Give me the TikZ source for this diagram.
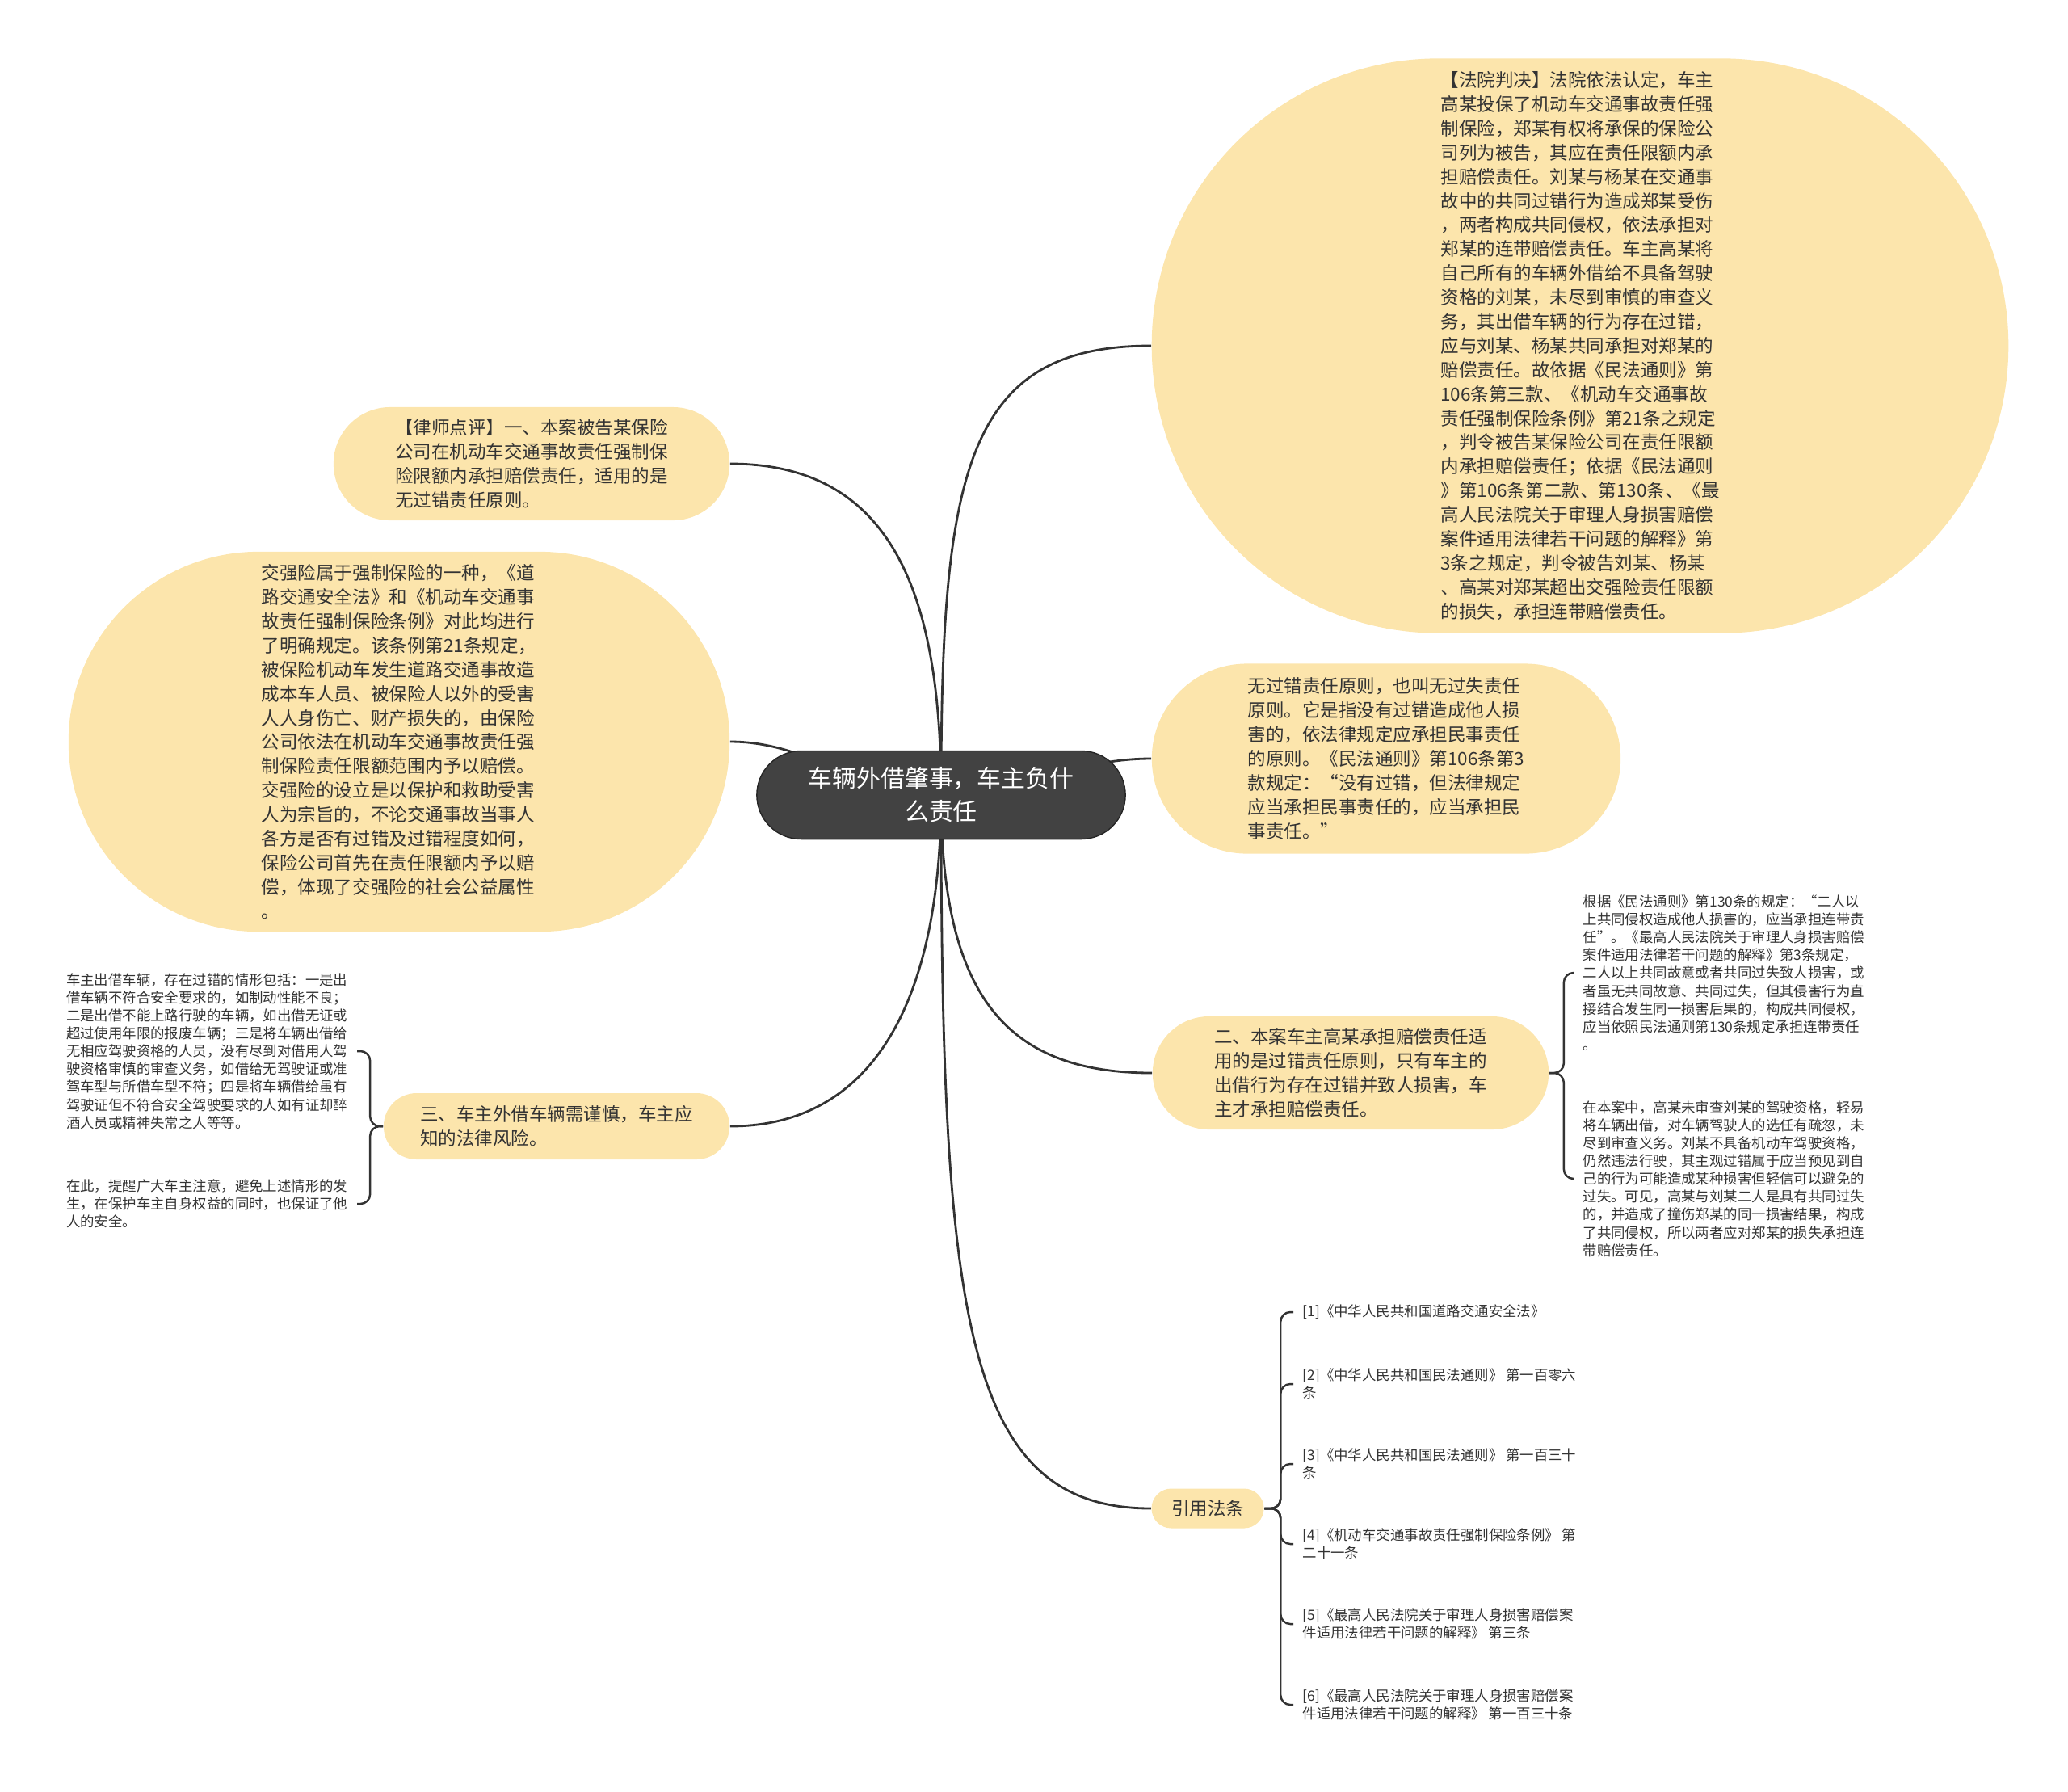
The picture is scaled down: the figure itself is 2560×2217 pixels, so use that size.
\documentclass[tikz,border=0pt]{standalone}
\usepackage{fontspec}
\setmainfont{Noto Sans CJK SC}
\usetikzlibrary{shapes.misc,backgrounds}
\definecolor{bubblefill}{RGB}{252,229,172}
\definecolor{rootfill}{RGB}{66,66,66}
\definecolor{inkgray}{RGB}{51,51,51}

\begin{document}
\begin{tikzpicture}[x=0.01cm,y=-0.01cm,
  bubble/.style={rounded rectangle, fill=bubblefill, inner sep=0pt, align=left, text=inkgray, font=\fontsize{6.4}{8.5}\selectfont},
  note/.style={inner xsep=0.11cm, inner ysep=0pt, align=left, text=inkgray, font=\fontsize{4.95}{6.3}\selectfont},
  link/.style={draw=inkgray, line width=0.8pt},
  brace/.style={draw=inkgray, line width=0.7pt, rounded corners=0.12cm}]
\useasboundingbox (0,0) rectangle (2560,2217);

% centre topic
\node[rounded rectangle, fill=rootfill, draw=black!85, minimum width=4.56cm, minimum height=1.09cm, inner sep=0pt, align=center, text=white, font=\fontsize{8.5}{11.7}\selectfont] (root) at (1165,984) {车辆外借肇事，车主负什\\么责任};

% main branches
\node[bubble, minimum width=10.6cm, minimum height=7.11cm] (judge) at (1956,428) {【法院判决】法院依法认定，车主\\高某投保了机动车交通事故责任强\\制保险，郑某有权将承保的保险公\\司列为被告，其应在责任限额内承\\担赔偿责任。刘某与杨某在交通事\\故中的共同过错行为造成郑某受伤\\，两者构成共同侵权，依法承担对\\郑某的连带赔偿责任。车主高某将\\自己所有的车辆外借给不具备驾驶\\资格的刘某，未尽到审慎的审查义\\务，其出借车辆的行为存在过错，\\应与刘某、杨某共同承担对郑某的\\赔偿责任。故依据《民法通则》第\\106条第三款、《机动车交通事故\\责任强制保险条例》第21条之规定\\，判令被告某保险公司在责任限额\\内承担赔偿责任；依据《民法通则\\》第106条第二款、第130条、《最\\高人民法院关于审理人身损害赔偿\\案件适用法律若干问题的解释》第\\3条之规定，判令被告刘某、杨某\\、高某对郑某超出交强险责任限额\\的损失，承担连带赔偿责任。};
\node[bubble, minimum width=4.9cm, minimum height=1.4cm] (lawyer) at (658,574) {【律师点评】一、本案被告某保险\\公司在机动车交通事故责任强制保\\险限额内承担赔偿责任，适用的是\\无过错责任原则。};
\node[bubble, minimum width=8.18cm, minimum height=4.7cm] (insure) at (494,918) {交强险属于强制保险的一种，《道\\路交通安全法》和《机动车交通事\\故责任强制保险条例》对此均进行\\了明确规定。该条例第21条规定，\\被保险机动车发生道路交通事故造\\成本车人员、被保险人以外的受害\\人人身伤亡、财产损失的，由保险\\公司依法在机动车交通事故责任强\\制保险责任限额范围内予以赔偿。\\交强险的设立是以保护和救助受害\\人为宗旨的，不论交通事故当事人\\各方是否有过错及过错程度如何，\\保险公司首先在责任限额内予以赔\\偿，体现了交强险的社会公益属性\\。};
\node[bubble, minimum width=5.8cm, minimum height=2.35cm] (nofault) at (1716,939) {无过错责任原则，也叫无过失责任\\原则。它是指没有过错造成他人损\\害的，依法律规定应承担民事责任\\的原则。《民法通则》第106条第3\\款规定：“没有过错，但法律规定\\应当承担民事责任的，应当承担民\\事责任。”};
\node[bubble, minimum width=4.9cm, minimum height=1.4cm] (two) at (1672,1328) {二、本案车主高某承担赔偿责任适\\用的是过错责任原则，只有车主的\\出借行为存在过错并致人损害，车\\主才承担赔偿责任。};
\node[bubble, minimum width=4.28cm, minimum height=0.82cm] (three) at (689,1394) {三、车主外借车辆需谨慎，车主应\\知的法律风险。};
\node[bubble, minimum width=1.39cm, minimum height=0.49cm] (law) at (1495,1867) {引用法条};

% notes
\node[note, anchor=west] (twoA) at (1948,1204) {根据《民法通则》第130条的规定：“二人以\\上共同侵权造成他人损害的，应当承担连带责\\任”。《最高人民法院关于审理人身损害赔偿\\案件适用法律若干问题的解释》第3条规定，\\二人以上共同故意或者共同过失致人损害，或\\者虽无共同故意、共同过失，但其侵害行为直\\接结合发生同一损害后果的，构成共同侵权，\\应当依照民法通则第130条规定承担连带责任\\。};
\node[note, anchor=west] (twoB) at (1948,1459) {在本案中，高某未审查刘某的驾驶资格，轻易\\将车辆出借，对车辆驾驶人的选任有疏忽，未\\尽到审查义务。刘某不具备机动车驾驶资格，\\仍然违法行驶，其主观过错属于应当预见到自\\己的行为可能造成某种损害但轻信可以避免的\\过失。可见，高某与刘某二人是具有共同过失\\的，并造成了撞伤郑某的同一损害结果，构成\\了共同侵权，所以两者应对郑某的损失承担连\\带赔偿责任。};
\node[note, anchor=east] (threeA) at (442,1301) {车主出借车辆，存在过错的情形包括：一是出\\借车辆不符合安全要求的，如制动性能不良；\\二是出借不能上路行驶的车辆，如出借无证或\\超过使用年限的报废车辆；三是将车辆出借给\\无相应驾驶资格的人员，没有尽到对借用人驾\\驶资格审慎的审查义务，如借给无驾驶证或准\\驾车型与所借车型不符；四是将车辆借给虽有\\驾驶证但不符合安全驾驶要求的人如有证却醉\\酒人员或精神失常之人等等。};
\node[note, anchor=east] (threeB) at (442,1490) {在此，提醒广大车主注意，避免上述情形的发\\生，在保护车主自身权益的同时，也保证了他\\人的安全。};

% cited articles
\node[note, anchor=west] (cite1) at (1601,1624) {[1]《中华人民共和国道路交通安全法》};
\node[note, anchor=west] (cite2) at (1601,1713) {[2]《中华人民共和国民法通则》 第一百零六\\条};
\node[note, anchor=west] (cite3) at (1601,1812) {[3]《中华人民共和国民法通则》 第一百三十\\条};
\node[note, anchor=west] (cite4) at (1601,1911) {[4]《机动车交通事故责任强制保险条例》 第\\二十一条};
\node[note, anchor=west] (cite5) at (1601,2010) {[5]《最高人民法院关于审理人身损害赔偿案\\件适用法律若干问题的解释》 第三条};
\node[note, anchor=west] (cite6) at (1601,2110) {[6]《最高人民法院关于审理人身损害赔偿案\\件适用法律若干问题的解释》 第一百三十条};

% connectors
\begin{scope}[on background layer]
\draw[link] (root.center) .. controls +(0,-400) and +(-230,0) .. (judge.west);
\draw[link] (root.center) .. controls +(0,-250) and +(200,0) .. (lawyer.east);
\draw[link] (root.center) .. controls +(-100,0) and +(100,0) .. (insure.east);
\draw[link] (root.center) .. controls +(100,0) and +(-100,0) .. (nofault.west);
\draw[link] (root.center) .. controls +(0,250) and +(-180,0) .. (two.west);
\draw[link] (root.center) .. controls +(0,250) and +(180,0) .. (three.east);
\draw[link] (root.center) .. controls +(0,650) and +(-230,0) .. (law.west);
\end{scope}

\draw[brace] (two.east) -- ++(18,0) |- (twoA.west);
\draw[brace] (two.east) -- ++(18,0) |- (twoB.west);
\draw[brace] (three.west) -- ++(-16,0) |- (threeA.east);
\draw[brace] (three.west) -- ++(-16,0) |- (threeB.east);
\foreach \i in {1,...,6}
  \draw[brace] (law.east) -- ++(20,0) |- (cite\i.west);
\end{tikzpicture}
\end{document}
